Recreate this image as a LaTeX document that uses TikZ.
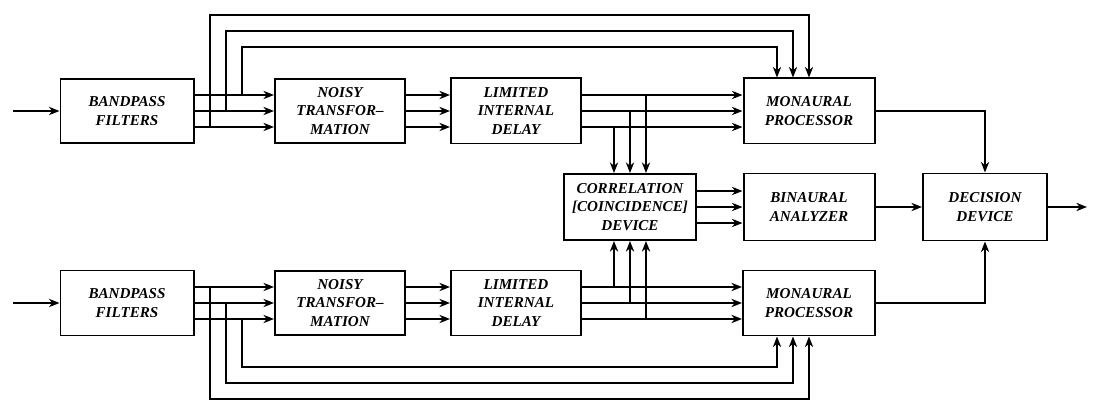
\documentclass[tikz,border=0pt]{standalone}
\usepackage{fontspec}
\setmainfont{Liberation Serif}
\usetikzlibrary{arrows.meta,calc}
\begin{document}
\begin{tikzpicture}[x=0.03cm,y=-0.03cm,
  box/.style={draw,line width=1.7pt,align=center,inner sep=0pt,
    font=\bfseries\itshape\fontsize{12.9}{15.8}\selectfont},
  conn/.style={line width=1.6pt},
  arr/.style={conn,-{Stealth[length=9pt,width=7pt,inset=2.8pt]}}]
\useasboundingbox (0,0) rectangle (1094,404);

% top channel
\node[box,minimum width=3.99cm,minimum height=1.92cm] (bp1) at (127,111) {BANDPASS\\FILTERS};
\node[box,minimum width=3.9cm,minimum height=1.92cm] (ns1) at (340,111) {NOISY\\TRANSFOR--\\MATION};
\node[box,minimum width=3.9cm,minimum height=1.95cm] (ld1) at (516,111) {LIMITED\\INTERNAL\\DELAY};
\node[box,minimum width=3.93cm,minimum height=1.95cm] (mp1) at (809,111) {MONAURAL\\PROCESSOR};
% middle
\node[box,minimum width=3.96cm,minimum height=1.98cm] (cc) at (630,207) {CORRELATION\\{[COINCIDENCE]}\\DEVICE};
\node[box,minimum width=3.93cm,minimum height=2.01cm] (ba) at (809,207) {BINAURAL\\ANALYZER};
\node[box,minimum width=3.72cm,minimum height=2.01cm] (dd) at (985,207) {DECISION\\DEVICE};
% bottom channel
\node[box,minimum width=3.99cm,minimum height=1.95cm] (bp2) at (127,303) {BANDPASS\\FILTERS};
\node[box,minimum width=3.9cm,minimum height=1.92cm] (ns2) at (340,303) {NOISY\\TRANSFOR--\\MATION};
\node[box,minimum width=3.9cm,minimum height=1.95cm] (ld2) at (516,303) {LIMITED\\INTERNAL\\DELAY};
\node[box,minimum width=3.96cm,minimum height=1.95cm] (mp2) at (809,303) {MONAURAL\\PROCESSOR};

% inputs and output
\coordinate (in1) at (13,111);
\coordinate (in2) at (13,303);
\coordinate (out) at (1087,207);
\draw[arr] (in1) -- (bp1.west);
\draw[arr] (in2) -- (bp2.west);
\draw[arr] (dd.east) -- (out);

% three-line buses
\foreach \y in {95,111,127}{
  \draw[arr] (bp1.east |- 0,\y) -- (ns1.west |- 0,\y);
  \draw[arr] (ns1.east |- 0,\y) -- (ld1.west |- 0,\y);
  \draw[arr] (ld1.east |- 0,\y) -- (mp1.west |- 0,\y);
}
\foreach \y in {287,303,319}{
  \draw[arr] (bp2.east |- 0,\y) -- (ns2.west |- 0,\y);
  \draw[arr] (ns2.east |- 0,\y) -- (ld2.west |- 0,\y);
  \draw[arr] (ld2.east |- 0,\y) -- (mp2.west |- 0,\y);
}
\foreach \y in {191,207,223}{
  \draw[arr] (cc.east |- 0,\y) -- (ba.west |- 0,\y);
}
\draw[arr] (ba.east) -- (dd.west);
\draw[arr] (mp1.east) -| (dd.north);
\draw[arr] (mp2.east) -| (dd.south);

% taps to correlation device
\draw[arr] (646,95) -- (cc.north -| 646,0);
\draw[arr] (630,111) -- (cc.north);
\draw[arr] (614,127) -- (cc.north -| 614,0);
\draw[arr] (614,287) -- (cc.south -| 614,0);
\draw[arr] (630,303) -- (cc.south);
\draw[arr] (646,319) -- (cc.south -| 646,0);

% bypass lines to monaural processors
\draw[arr] (210,127) |- (809,15) -- (mp1.north -| 809,0);
\draw[arr] (226,111) |- (793,31) -- (mp1.north -| 793,0);
\draw[arr] (242,95) |- (777,47) -- (mp1.north -| 777,0);
\draw[arr] (210,287) |- (809,399) -- (mp2.south -| 809,0);
\draw[arr] (226,303) |- (793,383) -- (mp2.south -| 793,0);
\draw[arr] (242,319) |- (777,367) -- (mp2.south -| 777,0);
\end{tikzpicture}
\end{document}
